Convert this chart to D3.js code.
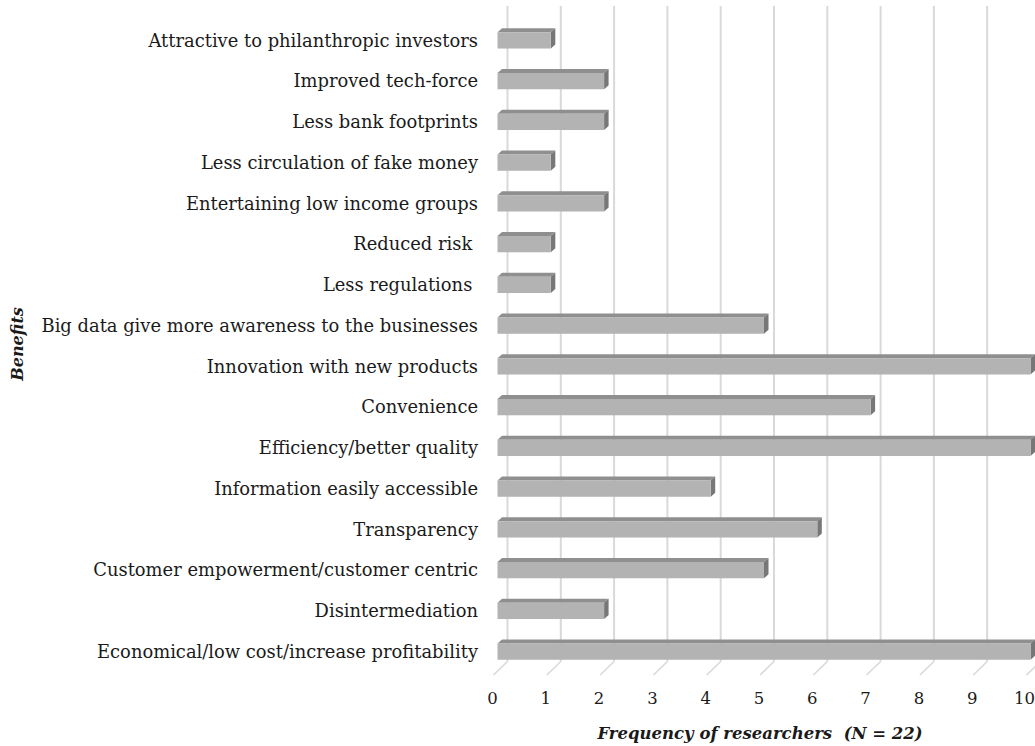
<!DOCTYPE html>
<html>
<head>
<meta charset="utf-8">
<script src="https://cdn.jsdelivr.net/npm/d3@7"></script>
<style>
  html, body { margin: 0; padding: 0; background: #ffffff; }
  svg { display: block; }
  text { font-family: "DejaVu Serif", "Liberation Serif", serif; fill: #1a1a1a; }
</style>
</head>
<body>
<svg id="chart" width="1035" height="746"></svg>
<script>
// Benefits listed top to bottom, with the number of researchers naming each
const categories = [
  "Attractive to philanthropic investors",
  "Improved tech-force",
  "Less bank footprints",
  "Less circulation of fake money",
  "Entertaining low income groups",
  "Reduced risk ",
  "Less regulations ",
  "Big data give more awareness to the businesses",
  "Innovation with new products",
  "Convenience",
  "Efficiency/better quality",
  "Information easily accessible",
  "Transparency",
  "Customer empowerment/customer centric",
  "Disintermediation",
  "Economical/low cost/increase profitability"
];
const frequencies = [1, 2, 2, 1, 2, 1, 1, 5, 10, 7, 10, 4, 6, 5, 2, 10];
const tickValues = [0, 1, 2, 3, 4, 5, 6, 7, 8, 9, 10];
const xTitle = "Frequency of researchers  (N = 22)";
const yTitle = "Benefits";

const W = 1035;
const svg = d3.select("#chart");

// Back-wall value scale; bars and floor are offset from it to give the 3-D look
const x = d3.scaleLinear().domain([0, 10]).range([507.5, 1040.5]);
const y = d3.scaleBand().domain(categories).range([20, 672])
  .paddingInner(0.6).paddingOuter(0.3);

const wallTop = 6, wallBottom = 661.5;
const floorDx = -14, floorDy = 13.5;      // slant of the floor lines
const barShift = -10;                      // front face of the bars vs. back wall
const depthDx = 4.5, depthDy = -4;         // bar depth (top and side faces)

// Gridlines: vertical on the back wall, then slanting forward across the floor
const grid = svg.append("g").attr("fill", "none");
grid.selectAll("path.wall")
  .data(tickValues)
  .join("path")
  .attr("class", "wall")
  .attr("d", d => `M${x(d)},${wallTop}V${wallBottom}`)
  .attr("stroke", "#d9d9d9")
  .attr("stroke-width", 2);
grid.selectAll("path.floor")
  .data(tickValues)
  .join("path")
  .attr("class", "floor")
  .attr("d", d => `M${x(d)},${wallBottom}l${floorDx},${floorDy}`)
  .attr("stroke", "#d9d9d9")
  .attr("stroke-width", 1.6);

// 3-D bars: front face, top face and right side face
const bars = svg.append("g").selectAll("g")
  .data(categories.map((c, i) => ({ c, v: frequencies[i] })))
  .join("g");

const x0 = x(0) + barShift;
const bh = y.bandwidth();

bars.append("path")
  .attr("d", d => {
    const x1 = x(d.v) + barShift, yt = y(d.c);
    return `M${x0},${yt}l${depthDx},${depthDy}H${x1 + depthDx}l${-depthDx},${-depthDy}Z`;
  })
  .attr("fill", "#8f8f8f");

bars.append("path")
  .attr("d", d => {
    const x1 = x(d.v) + barShift, yt = y(d.c);
    return `M${x1},${yt}l${depthDx},${depthDy}v${bh}l${-depthDx},${-depthDy}Z`;
  })
  .attr("fill", "#777777");

bars.append("rect")
  .attr("x", x0)
  .attr("y", d => y(d.c))
  .attr("width", d => x(d.v) - x(0))
  .attr("height", bh)
  .attr("fill", "#b3b3b3");

// Category labels
svg.append("g").selectAll("text")
  .data(categories)
  .join("text")
  .attr("x", 478)
  .attr("y", d => y(d) + bh / 2)
  .attr("dy", "0.35em")
  .attr("text-anchor", "end")
  .attr("xml:space", "preserve")
  .style("font-size", "17.9px")
  .text(d => d);

// Value axis labels along the front edge of the floor (kept inside the page)
svg.append("g").selectAll("text")
  .data(tickValues)
  .join("text")
  .attr("y", 698)
  .attr("dy", "0.35em")
  .attr("text-anchor", "middle")
  .style("font-size", "16.5px")
  .text(d => d)
  .each(function (d) {
    const w = this.getComputedTextLength();
    const cx = Math.min(x(d) + floorDx - 1, W - w / 2);
    d3.select(this).attr("x", cx);
  });

// Axis titles
svg.append("text")
  .attr("x", 760)
  .attr("y", 733)
  .attr("dy", "0.35em")
  .attr("text-anchor", "middle")
  .attr("xml:space", "preserve")
  .style("font-size", "16.5px")
  .style("font-weight", "bold")
  .style("font-style", "italic")
  .text(xTitle);

svg.append("text")
  .attr("transform", "translate(17,344) rotate(-90)")
  .attr("dy", "0.35em")
  .attr("text-anchor", "middle")
  .style("font-size", "16px")
  .style("font-weight", "bold")
  .style("font-style", "italic")
  .text(yTitle);
</script>
</body>
</html>
